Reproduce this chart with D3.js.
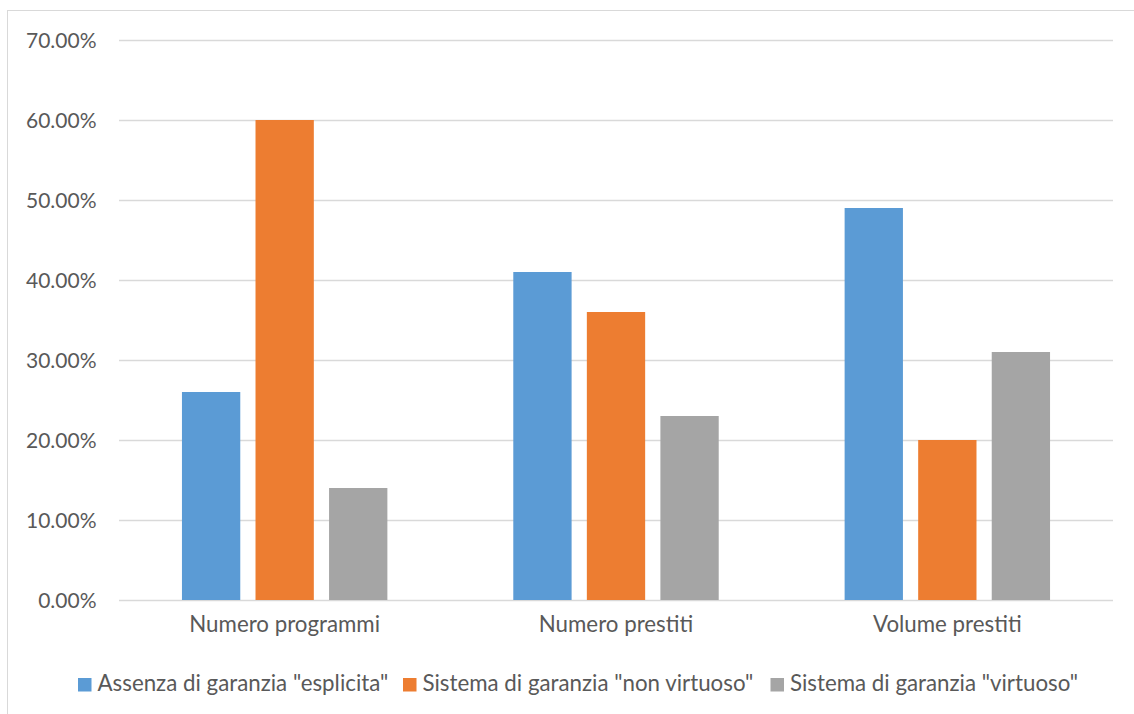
<!DOCTYPE html>
<html>
<head>
<meta charset="utf-8">
<script src="https://cdn.jsdelivr.net/npm/d3@7"></script>
<style>
  html, body { margin: 0; padding: 0; background: #fff; }
  svg { display: block; }
  text { font-family: Lato, "Open Sans", sans-serif; fill: #595959; }
</style>
</head>
<body>
<svg id="chart" width="1134" height="714"></svg>
<script>
const categories = ["Numero programmi", "Numero prestiti", "Volume prestiti"];
const seriesNames = [
  'Assenza di garanzia "esplicita"',
  'Sistema di garanzia "non virtuoso"',
  'Sistema di garanzia "virtuoso"'
];
const seriesColors = ["#5b9bd5", "#ed7d31", "#a5a5a5"];
const esplicita = [0.26, 0.41, 0.49];
const nonVirtuoso = [0.60, 0.36, 0.20];
const virtuoso = [0.14, 0.23, 0.31];
const tickValues = [0, 0.1, 0.2, 0.3, 0.4, 0.5, 0.6, 0.7];

const seriesValues = [esplicita, nonVirtuoso, virtuoso];

const svg = d3.select("#chart");

// outer chart frame
svg.append("rect")
  .attr("x", 7.5).attr("y", 10.5)
  .attr("width", 1140).attr("height", 720)
  .attr("fill", "none").attr("stroke", "#d9d9d9").attr("stroke-width", 1);

const plot = { left: 119, right: 1113, top: 40, bottom: 600 };

const x0 = d3.scaleBand().domain(categories).range([plot.left, plot.right]).paddingInner(0).paddingOuter(0);
const y = d3.scaleLinear().domain([0, 0.7]).range([plot.bottom, plot.top]);

const barW = x0.bandwidth() * 0.176;
const step = x0.bandwidth() * 0.222;

// gridlines
svg.append("g").selectAll("line").data(tickValues).join("line")
  .attr("x1", plot.left).attr("x2", plot.right)
  .attr("y1", d => Math.round(y(d)) + 0.5).attr("y2", d => Math.round(y(d)) + 0.5)
  .attr("stroke", "#d9d9d9").attr("stroke-width", 1.5);

// y axis labels
const yAxis = d3.axisLeft(y).tickValues(tickValues).tickSize(0).tickPadding(0)
  .tickFormat(d => (d * 100).toFixed(2) + "%");
const gy = svg.append("g").attr("transform", `translate(96.5,0)`).call(yAxis);
gy.select(".domain").remove();
gy.selectAll("text").attr("font-size", 21).attr("fill", "#595959")
  .attr("font-family", "Lato, sans-serif").attr("y", 7).attr("dy", null);

// bars
categories.forEach((cat, ci) => {
  const cx = x0(cat) + x0.bandwidth() / 2;
  seriesValues.forEach((vals, si) => {
    const bx = cx + (si - 1) * step - barW / 2;
    svg.append("rect")
      .attr("x", bx).attr("width", barW)
      .attr("y", y(vals[ci])).attr("height", y(0) - y(vals[ci]))
      .attr("fill", seriesColors[si]);
  });
});

// category axis labels
const xAxis = d3.axisBottom(x0).tickSize(0).tickPadding(0);
const gx = svg.append("g").attr("transform", `translate(0,${plot.bottom})`).call(xAxis);
gx.select(".domain").remove();
gx.selectAll("text").attr("font-size", 22.3).attr("fill", "#595959")
  .attr("font-family", "Lato, sans-serif").attr("y", 32).attr("dy", null);

// legend
const legend = svg.append("g").attr("transform", "translate(0,691)");
const legendStarts = [78, 403, 770.5];
seriesNames.forEach((name, i) => {
  const g = legend.append("g").attr("transform", `translate(${legendStarts[i]},0)`);
  g.append("rect").attr("x", 0).attr("y", -13).attr("width", 13.5).attr("height", 13.5).attr("fill", seriesColors[i]);
  g.append("text").attr("x", 19.5).attr("y", 0)
    .attr("font-size", 22.3).text(name);
});
</script>
</body>
</html>
